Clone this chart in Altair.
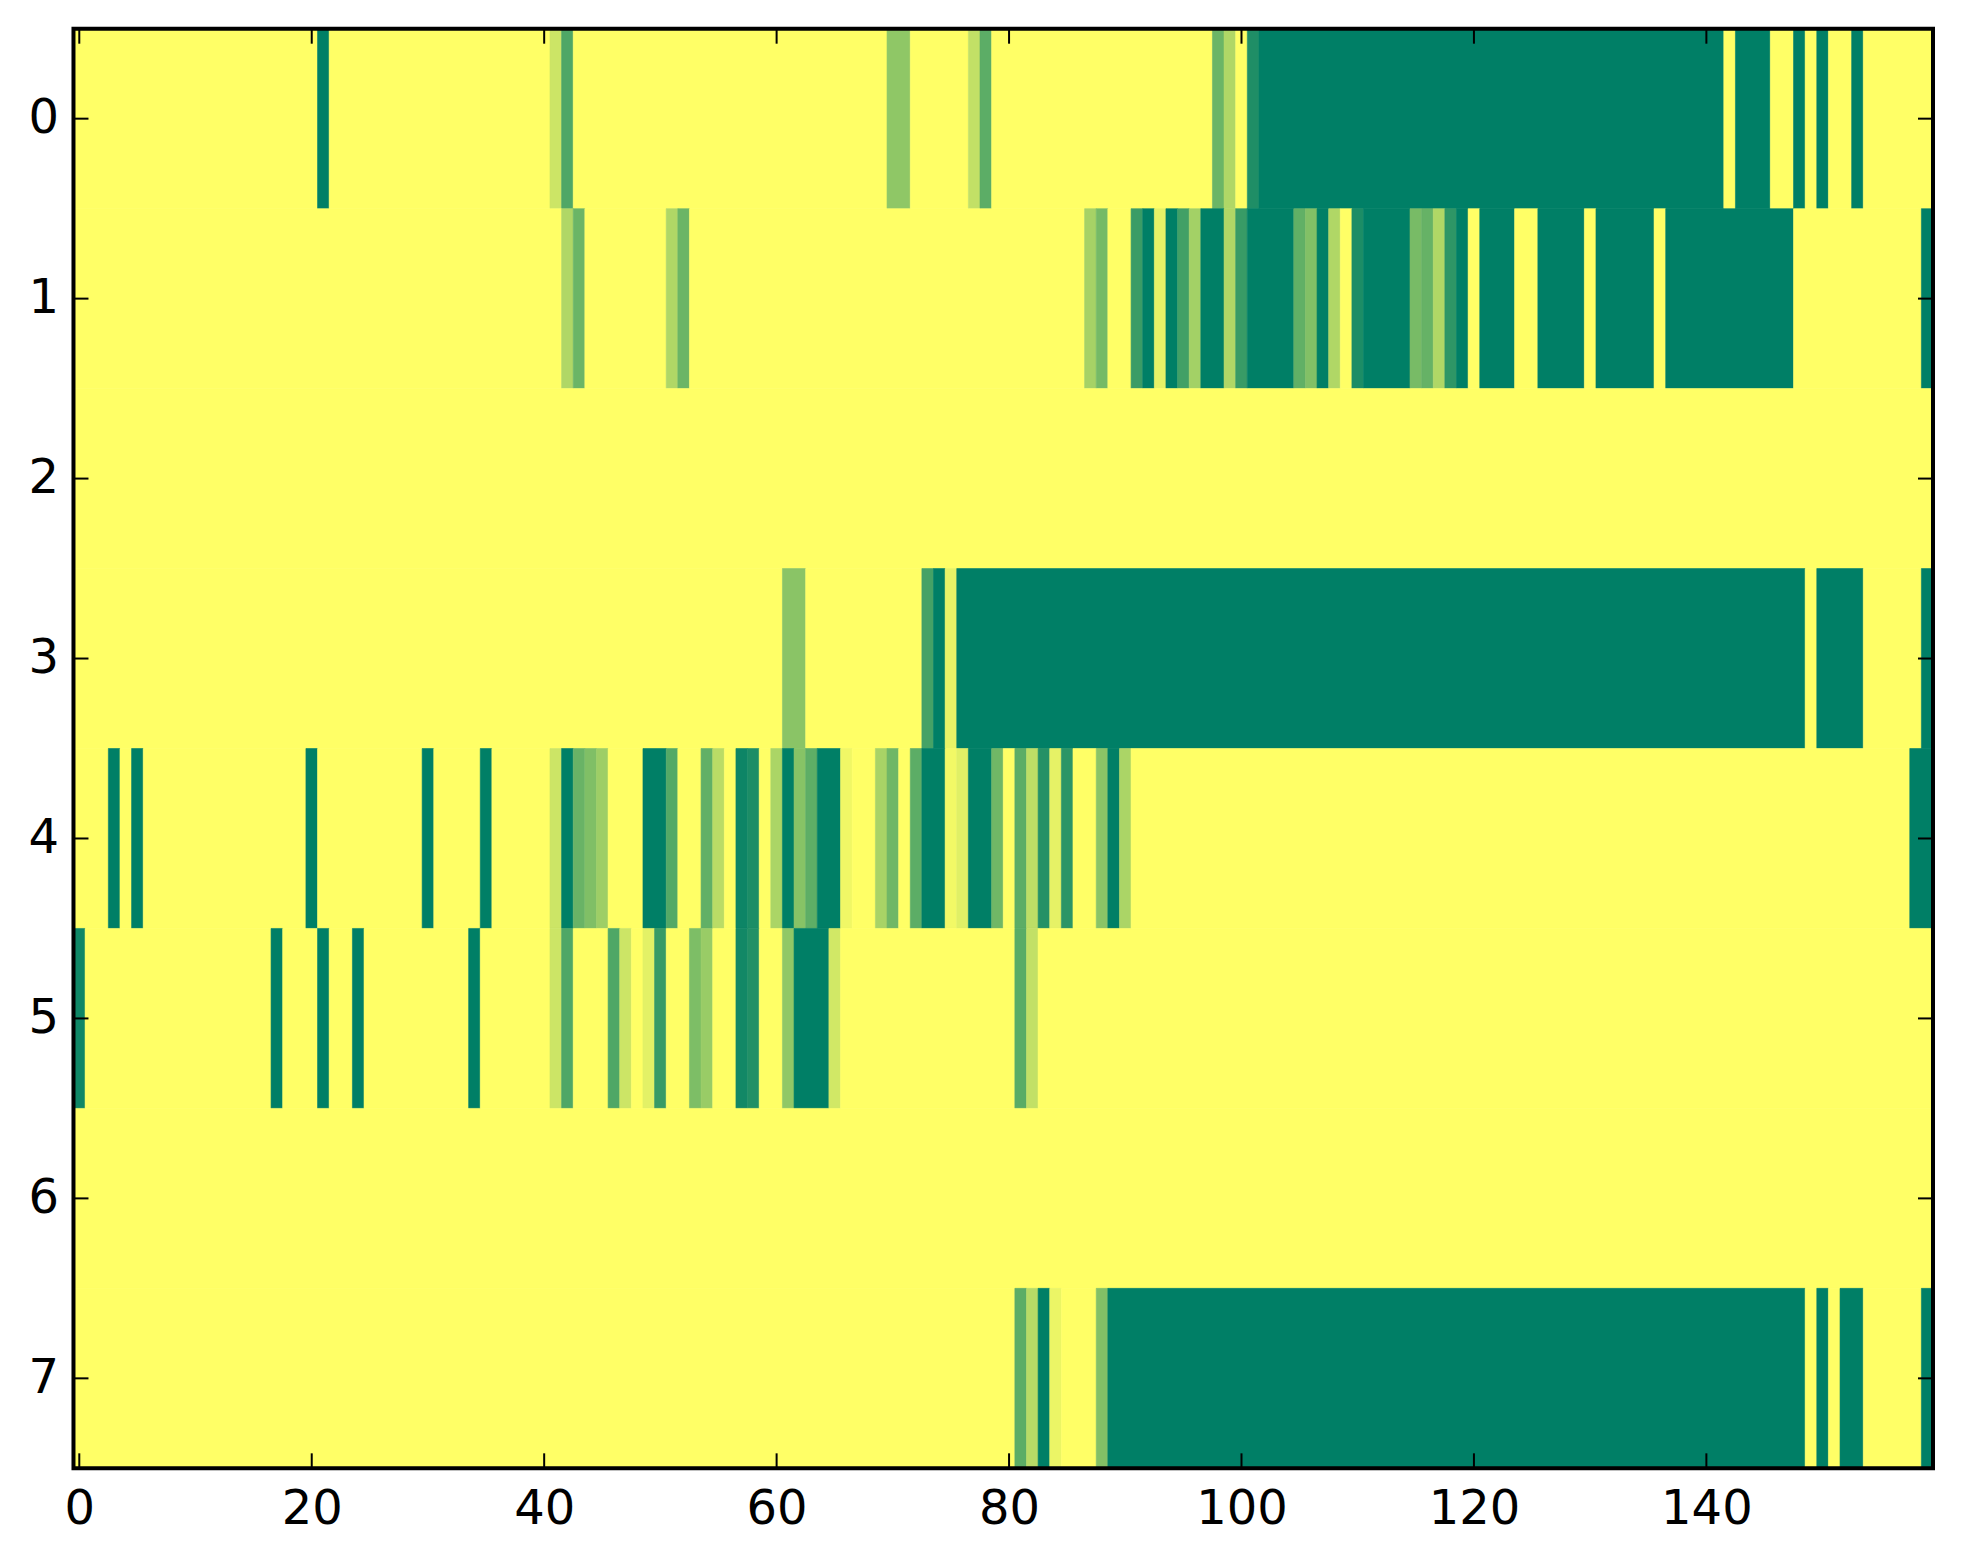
import altair as alt
import pandas as pd

WIDTH = 1860
HEIGHT = 1440
N_COLS = 160

# Runs of columns as (first column, last column, value); every other cell is 0.
ROW_0 = [(21, 21, 1.0), (41, 41, .20), (42, 42, .69), (70, 71, .44), (77, 77, .24), (78, 78, .64),
         (98, 98, .58), (99, 99, .31), (101, 101, .88), (102, 141, 1.0), (143, 145, 1.0),
         (148, 148, 1.0), (150, 150, 1.0), (153, 153, 1.0)]
ROW_1 = [(42, 42, .31), (43, 43, .58), (51, 51, .31), (52, 52, .58), (87, 87, .35), (88, 88, .54),
         (91, 91, .77), (92, 92, 1.0), (93, 93, .10), (94, 94, 1.0), (95, 95, .74), (96, 96, .36),
         (97, 98, 1.0), (99, 99, .31), (100, 100, .78), (101, 104, 1.0), (105, 105, .62),
         (106, 106, .49), (107, 107, 1.0), (108, 108, .31), (110, 110, .89), (111, 114, 1.0),
         (115, 115, .53), (116, 116, .60), (117, 117, .31), (118, 118, .82), (119, 119, 1.0),
         (121, 123, 1.0), (126, 129, 1.0), (131, 135, 1.0), (137, 147, 1.0), (159, 159, 1.0)]
ROW_2 = []
ROW_3 = [(61, 62, .46), (73, 73, .73), (74, 74, 1.0), (75, 75, .09), (76, 148, 1.0),
         (150, 153, 1.0), (159, 159, 1.0)]
ROW_4 = [(3, 3, 1.0), (5, 5, 1.0), (20, 20, 1.0), (30, 30, 1.0), (35, 35, 1.0), (41, 41, .20),
         (42, 42, 1.0), (43, 43, .59), (44, 44, .50), (45, 45, .38), (49, 50, 1.0), (51, 51, .67),
         (54, 54, .62), (55, 55, .27), (57, 57, .95), (58, 58, .89), (60, 60, .33), (61, 61, 1.0),
         (62, 62, .47), (63, 63, .63), (64, 65, 1.0), (66, 66, .06), (69, 69, .34), (70, 70, .56),
         (72, 72, .64), (73, 74, 1.0), (75, 75, .05), (76, 76, .12), (77, 78, 1.0), (79, 79, .56),
         (81, 81, .64), (82, 82, .26), (83, 83, .86), (84, 84, .10), (85, 85, .83), (88, 88, .46),
         (89, 89, 1.0), (90, 90, .33), (158, 159, 1.0)]
ROW_5 = [(0, 0, .94), (17, 17, 1.0), (21, 21, 1.0), (24, 24, 1.0), (34, 34, 1.0), (41, 41, .20),
         (42, 42, .69), (46, 46, .69), (47, 47, .20), (49, 49, .11), (50, 50, .78), (53, 53, .51),
         (54, 54, .40), (57, 57, .93), (58, 58, .87), (61, 61, .43), (62, 64, 1.0), (65, 65, .18),
         (81, 81, .65), (82, 82, .24)]
ROW_6 = []
ROW_7 = [(81, 81, .64), (82, 82, .28), (83, 83, 1.0), (84, 84, .08), (88, 88, .49), (89, 148, 1.0),
         (150, 150, 1.0), (152, 153, 1.0), (159, 159, 1.0)]
ROWS = [ROW_0, ROW_1, ROW_2, ROW_3, ROW_4, ROW_5, ROW_6, ROW_7]

X_TICKS = [0, 20, 40, 60, 80, 100, 120, 140]
Y_TICKS = [0, 1, 2, 3, 4, 5, 6, 7]

records = []
for r, runs in enumerate(ROWS):
    values = [0.0] * N_COLS
    for first, last, v in runs:
        for c in range(first, last + 1):
            values[c] = v
    start = 0
    for c in range(1, N_COLS + 1):
        if c == N_COLS or values[c] != values[start]:
            records.append({"x0": start - 0.5, "x1": c - 0.5, "y0": r - 0.5, "y1": r + 0.5,
                            "v": values[start]})
            start = c
cells = pd.DataFrame(records)

x_scale = alt.Scale(domain=[-0.5, 159.5], nice=False, zero=False)
y_scale = alt.Scale(domain=[7.5, -0.5], nice=False, zero=False)
c_scale = alt.Scale(domain=[0, 1], range=["#ffff66", "#007f66"], interpolate="rgb")

FONT = "DejaVu Sans"
FS = 48
x_axis = alt.Axis(values=X_TICKS, title=None, grid=False, domain=False, ticks=False, labelFont=FONT,
                  labelFontSize=FS, labelColor="black", labelPadding=17, labelFlush=False,
                  labelOverlap=False, labelBound=False, format="d")
y_axis = alt.Axis(values=Y_TICKS, title=None, grid=False, domain=False, ticks=False, labelFont=FONT,
                  labelFontSize=FS, labelColor="black", labelPadding=15, labelFlush=False,
                  labelOverlap=False, labelBound=False, format="d")

heat = alt.Chart(cells).mark_rect(strokeWidth=0.6).encode(
    x=alt.X("x0:Q", scale=x_scale, axis=x_axis),
    x2="x1:Q",
    y=alt.Y("y0:Q", scale=y_scale, axis=y_axis),
    y2="y1:Q",
    color=alt.Color("v:Q", scale=c_scale, legend=None),
    stroke=alt.Stroke("v:Q", scale=c_scale, legend=None),
)

xt = pd.DataFrame({"x0": X_TICKS})
yt = pd.DataFrame({"y0": Y_TICKS})
TL = 15
TW = 2
tick_bottom = alt.Chart(xt).mark_rule(color="black", strokeWidth=TW).encode(
    x=alt.X("x0:Q", scale=x_scale), y=alt.value(HEIGHT - TL), y2=alt.value(HEIGHT))
tick_top = alt.Chart(xt).mark_rule(color="black", strokeWidth=TW).encode(
    x=alt.X("x0:Q", scale=x_scale), y=alt.value(0), y2=alt.value(TL))
tick_left = alt.Chart(yt).mark_rule(color="black", strokeWidth=TW).encode(
    y=alt.Y("y0:Q", scale=y_scale), x=alt.value(0), x2=alt.value(TL))
tick_right = alt.Chart(yt).mark_rule(color="black", strokeWidth=TW).encode(
    y=alt.Y("y0:Q", scale=y_scale), x=alt.value(WIDTH - TL), x2=alt.value(WIDTH))

frame = alt.Chart(pd.DataFrame({"a": [0]})).mark_rect(
    filled=False, stroke="black", strokeWidth=4).encode(
    x=alt.value(0), x2=alt.value(WIDTH), y=alt.value(0), y2=alt.value(HEIGHT))

chart = alt.layer(heat, tick_bottom, tick_top, tick_left, tick_right, frame).properties(
    width=WIDTH,
    height=HEIGHT,
    autosize=alt.AutoSizeParams(type="none"),
    padding={"left": 65.5, "top": 20.5, "right": 22, "bottom": 85},
    background="white",
).configure_view(stroke=None)

chart.save("out.html", embed_options={"renderer": "svg", "actions": False})
